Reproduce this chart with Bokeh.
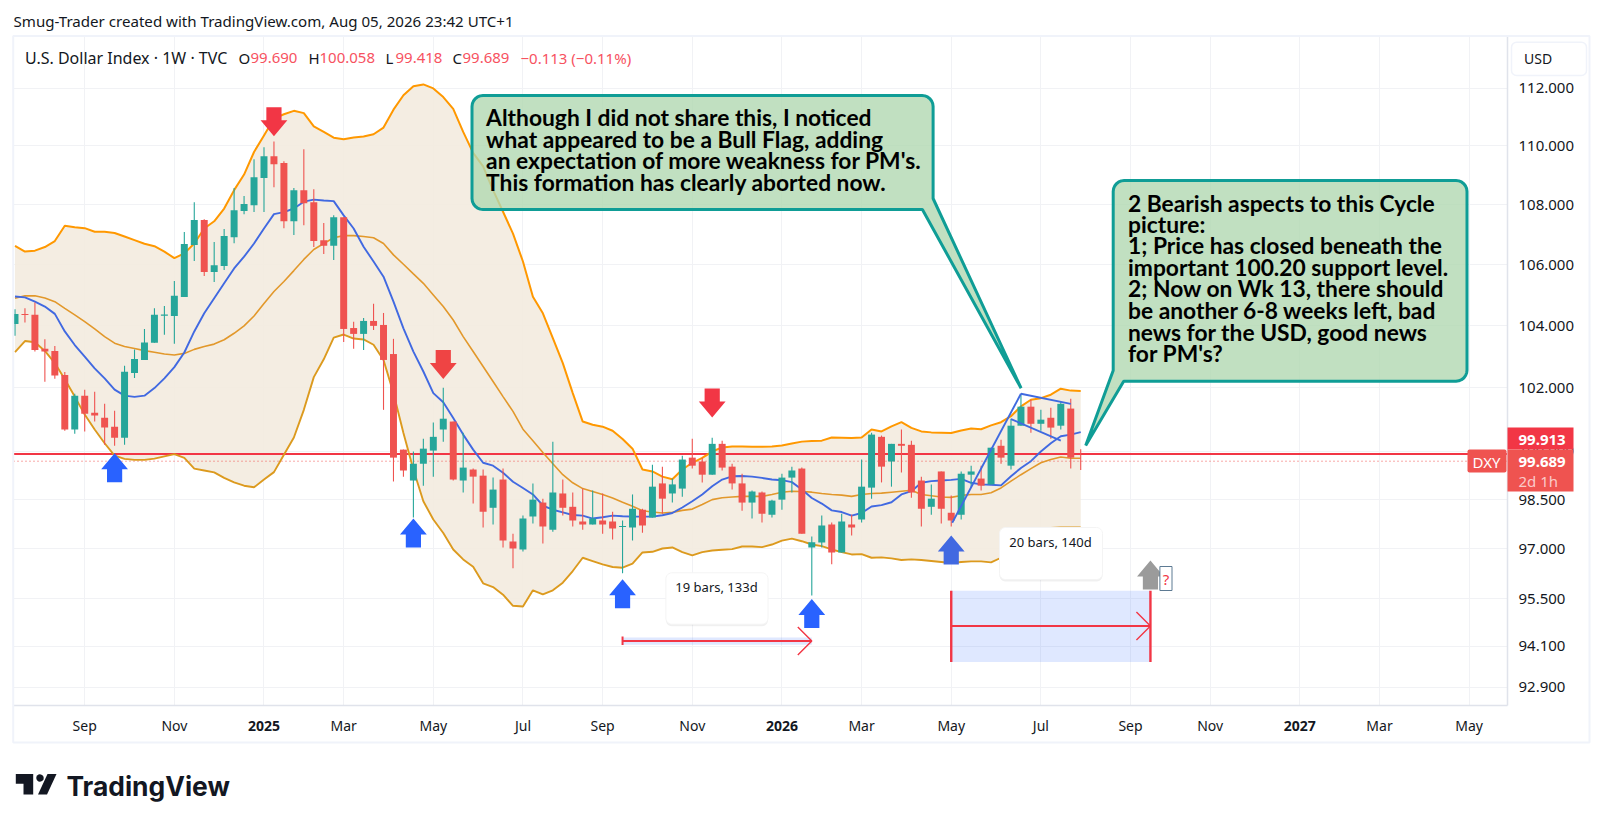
import math
import numpy as np
from bokeh.plotting import figure
from bokeh.embed import file_html
from bokeh.resources import INLINE
from bokeh.models import (Range1d, FixedTicker, PrintfTickFormatter, Label, BoxAnnotation,
                          PolyAnnotation, ColumnDataSource)

opens = [104.05,104.38,104.35,103.25,103.18,102.41,100.68,101.75,101.21,101.05,
 100.77,100.42,102.47,102.89,103.44,104.32,104.31,104.93,106.65,107.48,
 105.75,105.95,106.91,107.79,107.98,108.90,109.64,109.41,107.44,108.49,
 108.08,106.81,106.62,107.58,103.92,103.73,104.15,104.02,103.08,100.05,
 99.09,99.61,100.02,100.68,100.93,99.09,99.43,99.24,98.25,99.12,
 97.22,96.98,97.98,98.41,97.58,98.69,98.28,97.83,97.74,97.86,
 97.83,97.66,97.65,98.19,97.95,99.00,98.69,98.84,99.80,99.68,
 99.27,100.23,99.52,99.00,98.41,98.72,98.04,98.50,99.18,99.46,
 97.04,97.19,97.74,96.89,97.74,97.89,98.87,100.45,99.68,100.23,
 100.20,99.09,98.28,99.37,98.10,98.04,99.27,99.15,98.97,100.17,
 99.55,100.80,101.40,100.86,101.05,100.80,101.34,99.69]
closes = [104.38,104.34,103.21,103.16,102.39,100.68,101.75,101.18,101.12,100.74,
 100.42,102.51,102.92,103.45,104.35,104.36,104.97,106.68,107.48,105.75,
 105.98,106.95,107.81,108.02,108.93,109.64,109.37,107.44,108.49,108.05,
 106.78,106.62,107.58,103.89,103.73,104.15,103.99,102.89,99.80,99.40,
 99.61,100.08,100.45,101.02,99.12,99.49,99.21,98.13,98.81,97.25,
 97.01,97.92,98.50,97.68,98.72,98.25,97.86,97.74,97.92,97.74,
 97.62,97.69,98.22,97.71,98.90,98.53,98.97,99.74,99.55,99.27,
 100.23,99.49,99.00,98.41,98.75,98.07,98.47,99.18,99.40,97.46,
 97.20,97.71,96.89,97.83,97.65,98.90,100.52,99.52,100.23,100.17,
 98.72,98.22,98.53,98.22,97.86,99.30,99.37,98.93,100.11,99.80,
 100.80,101.40,100.86,100.99,100.74,101.49,99.80,99.689]
highs = [104.53,104.56,104.75,103.56,103.34,102.50,101.81,101.94,101.87,101.49,
 101.27,102.70,103.23,103.89,104.56,104.64,105.46,107.08,108.08,107.51,
 106.75,107.18,108.56,108.29,109.54,109.95,110.15,109.47,108.56,109.88,
 108.52,107.38,107.64,107.58,104.12,104.25,104.71,104.41,103.57,100.05,
 99.99,100.39,100.90,102.00,100.93,100.58,99.46,99.43,99.18,99.46,
 97.46,98.01,99.00,98.53,100.30,99.12,98.72,98.84,98.78,98.69,
 98.13,97.86,98.66,98.22,99.58,99.52,99.15,99.86,100.39,99.80,
 100.42,100.33,99.61,99.30,98.78,98.75,98.50,99.30,99.52,99.49,
 97.37,98.01,97.80,98.07,98.04,99.74,100.58,100.49,100.23,100.68,
 100.33,99.21,98.97,99.37,98.63,99.37,99.55,99.55,100.11,100.36,
 101.02,101.81,101.62,101.30,101.37,101.55,101.65,100.058]
lows = [103.67,104.10,103.16,102.19,102.29,100.64,100.55,100.62,100.93,100.20,
 100.17,100.20,102.31,102.89,103.44,103.70,103.41,104.93,106.12,105.62,
 105.42,105.82,106.71,107.68,107.75,107.75,108.59,107.21,106.98,107.31,
 106.58,106.35,106.15,103.47,103.25,103.21,103.86,101.30,99.06,99.21,
 97.95,98.93,99.21,100.30,99.09,98.72,98.38,97.65,97.74,97.04,
 96.41,96.92,97.77,97.16,97.52,98.01,97.68,97.58,97.74,97.46,
 97.28,96.26,97.25,97.49,97.95,98.07,98.41,98.59,99.46,99.03,
 99.27,99.40,98.81,98.16,97.92,97.80,97.95,98.19,98.72,97.46,
 95.60,97.04,96.53,96.89,97.40,97.80,98.53,99.03,98.90,99.34,
 98.56,97.68,98.04,97.77,97.68,97.89,98.87,98.78,98.97,99.61,
 99.43,100.80,100.58,100.64,100.39,100.68,99.46,99.418]
upper = [106.62,106.43,106.46,106.58,106.78,107.29,107.24,107.21,107.09,107.09,
 107.05,106.93,106.81,106.69,106.61,106.43,106.21,106.37,106.70,107.20,
 107.44,107.87,108.49,109.02,109.79,110.36,110.94,111.09,111.21,111.13,
 110.67,110.48,110.28,110.23,110.29,110.32,110.40,110.63,111.25,111.75,
 112.07,112.13,111.99,111.69,111.28,110.48,109.76,109.30,108.49,107.76,
 107.03,106.10,104.94,104.40,103.59,102.79,101.83,100.93,100.83,100.77,
 100.64,100.38,100.08,99.43,99.37,99.21,99.13,99.43,99.64,99.79,
 99.99,100.12,100.15,100.15,100.14,100.14,100.15,100.18,100.24,100.30,
 100.32,100.33,100.43,100.42,100.41,100.43,100.68,100.62,100.78,100.91,
 100.73,100.62,100.59,100.58,100.57,100.65,100.71,100.69,100.81,100.91,
 101.10,101.41,101.62,101.67,101.78,101.97,101.91,101.90]
basis = [104.89,104.97,104.97,104.90,104.78,104.56,104.35,104.13,103.89,103.64,
 103.43,103.32,103.26,103.19,103.14,103.08,103.05,103.10,103.23,103.32,
 103.40,103.54,103.75,103.99,104.31,104.72,105.11,105.44,105.80,106.17,
 106.50,106.70,106.89,106.96,106.96,106.93,106.89,106.70,106.32,106.01,
 105.69,105.38,105.00,104.62,104.18,103.64,103.16,102.68,102.20,101.72,
 101.25,100.69,100.33,99.96,99.61,99.27,99.02,98.84,98.75,98.66,
 98.55,98.42,98.30,98.16,98.12,98.09,98.11,98.17,98.21,98.35,
 98.50,98.56,98.58,98.60,98.60,98.60,98.66,98.73,98.76,98.75,
 98.73,98.69,98.66,98.64,98.60,98.66,98.69,98.70,98.73,98.76,
 98.79,98.66,98.62,98.58,98.57,98.63,98.66,98.66,98.71,98.86,
 99.07,99.27,99.46,99.64,99.74,99.82,99.78,99.78]
lower = [103.14,103.50,103.46,103.18,102.79,102.27,101.72,101.15,100.68,100.25,
 99.86,99.76,99.73,99.73,99.77,99.84,99.91,99.79,99.46,99.40,
 99.34,99.17,99.03,98.93,98.88,99.12,99.35,99.89,100.43,101.30,
 102.34,102.91,103.61,103.71,103.58,103.55,103.38,102.89,101.83,100.57,
 99.43,98.45,97.89,97.48,96.98,96.68,96.46,95.96,95.85,95.62,
 95.29,95.27,95.75,95.63,95.75,95.98,96.33,96.73,96.63,96.53,
 96.45,96.43,96.55,96.89,96.91,97.01,97.04,96.90,96.80,96.90,
 96.95,96.97,96.99,97.07,97.07,97.05,97.13,97.25,97.31,97.23,
 97.13,97.08,96.98,96.90,96.83,96.84,96.73,96.74,96.71,96.66,
 96.68,96.66,96.63,96.60,96.57,96.60,96.62,96.62,96.59,96.73,
 96.87,96.89,97.18,97.48,97.63,97.65,97.65,97.65]
fast_ma = [104.95,104.92,104.78,104.62,104.38,103.81,103.37,103.00,102.62,102.30,
 101.94,101.75,101.71,101.75,101.99,102.30,102.66,103.13,103.81,104.40,
 104.89,105.38,105.87,106.26,106.70,107.20,107.68,107.75,107.87,108.10,
 108.17,108.14,108.12,107.64,107.20,106.59,106.10,105.60,104.78,103.91,
 103.16,102.52,101.83,101.54,101.04,100.52,100.05,99.64,99.55,99.33,
 99.05,98.86,98.66,98.32,98.19,98.11,98.03,98.01,97.92,97.96,
 98.01,97.99,97.98,97.98,97.98,98.02,98.09,98.26,98.45,98.66,
 98.91,99.12,99.22,99.23,99.21,99.17,99.12,99.10,99.04,98.81,
 98.55,98.38,98.17,98.12,98.01,98.09,98.29,98.33,98.42,98.66,
 98.76,99.02,99.07,99.09,99.11,99.14,99.02,98.97,98.96,98.94,
 99.22,99.48,99.69,99.99,100.25,100.47,100.52,100.60]

month_ticks = [7,16,25,33,42,51,59,68,77,85,94,103,112,120,129,137,146]
month_labels = ["Sep","Nov","2025","Mar","May","Jul","Sep","Nov","2026","Mar","May","Jul","Sep","Nov","2027","Mar","May"]
price_ticks = [112,110,108,106,104,102,100,98.5,97,95.5,94.1,92.9]
last_close = 99.689
prev_line = 99.913

flag_pole_k, flag_pole_p = [94.1,101], [97.79,101.81]
flag_top_k, flag_top_p = [101,106], [101.81,101.49]
flag_low_k, flag_low_p = [100,105], [101.01,100.33]

arrow_k =   [26, 43, 70, 10, 40, 61, 80, 94, 114]
arrow_tip = [110.33,102.28,101.06,99.94,97.92,96.08,95.49,97.40,96.65]
arrow_dir = [-1,-1,-1,1,1,1,1,1,1]
arrow_col = ["#F23645","#ef4444","#F23645","#2962FF","#2962FF","#2962FF","#2962FF","#4169e1","#9b9b9b"]

callout1 = ["Although I did not share this, I noticed","what appeared to be a Bull Flag, adding",
            "an expectation of more weakness for PM's.","This formation has clearly aborted now."]
callout2 = ["2 Bearish aspects to this Cycle","picture:","1; Price has closed beneath the",
            "important 100.20 support level.","2; Now on Wk 13, there should",
            "be another 6-8 weeks left, bad","news for the USD, good news","for PM's?"]

# frame geometry on the page
FL, FR, FT, FB = 13.0, 1507.0, 36.0, 705.0
W, H = 1594, 816
x0, x1 = -0.15, 149.85
y0, y1 = 92.37, 113.82
ppw = (FR-FL)/(x1-x0)
ppl = (FB-FT)/math.log(y1/y0)
X = lambda rx: x0 + (rx-FL)/ppw
Y = lambda ry: y1*math.exp(-(ry-FT)/ppl)

FONT = "Noto Sans"
INK = "#131722"

p = figure(width=W, height=H, x_range=Range1d(x0,x1), y_range=Range1d(y0,y1), y_axis_type="log",
           y_axis_location="right", toolbar_location=None, output_backend="svg",
           min_border_left=int(FL), min_border_right=int(W-FR), min_border_top=int(FT),
           min_border_bottom=int(H-FB))
p.outline_line_color = None
p.background_fill_color = "white"

# a transparent sheet over the chart, for the texts and tags that lie outside the plot frame
sheet = figure(width=W, height=H, x_range=Range1d(0,W), y_range=Range1d(H,0), toolbar_location=None,
               output_backend="svg", x_axis_location=None, y_axis_location=None,
               min_border=0, min_border_left=0, min_border_right=0, min_border_top=0, min_border_bottom=0)
sheet.grid.visible = False
sheet.outline_line_color = None
sheet.background_fill_alpha = 0
sheet.border_fill_alpha = 0
sheet.styles = {"position":"absolute","left":"0px","top":"0px","pointer-events":"none"}

tick_y = FixedTicker(ticks=price_ticks, minor_ticks=[])
tick_x = FixedTicker(ticks=month_ticks, minor_ticks=[])
p.yaxis.ticker = tick_y
p.yaxis.formatter = PrintfTickFormatter(format="%.3f")
p.xaxis.ticker = tick_x
p.xaxis.major_label_overrides = {k:("" if l.isdigit() else l) for k,l in zip(month_ticks,month_labels)}
for ax in (p.xaxis[0], p.yaxis[0]):
    ax.axis_line_color = "#e0e3eb"
    ax.axis_line_width = 1.5
    ax.major_tick_line_color = None
    ax.minor_tick_line_color = None
    ax.major_label_text_font = FONT
    ax.major_label_text_color = INK
p.yaxis.major_label_text_font_size = "15px"
p.xaxis.major_label_text_font_size = "14px"
p.yaxis.major_label_standoff = 5
p.xaxis.major_label_standoff = 4
p.xgrid.ticker = tick_x
p.ygrid.ticker = tick_y
p.xgrid.grid_line_color = "#f1f2f5"
p.ygrid.grid_line_color = "#f1f2f5"

def lab(t, rx, ry, size, color=INK, align="left", style="normal", font=FONT, alpha=1.0, on=None):
    (on or p).add_layout(Label(x=rx, y=ry, x_units="canvas", y_units="canvas", text=t, text_font=font,
                       text_font_size=f"{size}px", text_color=color, text_align=align,
                       text_baseline="middle", text_font_style=style, text_alpha=alpha))

def box(l, t, r, b, fill=None, line=None, lw=1, rad=0, alpha=1.0, on=None):
    (on or p).add_layout(BoxAnnotation(left=l, right=r, top=t, bottom=b,
                               left_units="canvas", right_units="canvas", top_units="canvas", bottom_units="canvas",
                               fill_color=fill or "white", fill_alpha=alpha if fill else 0,
                               line_color=line, line_width=lw, line_alpha=1.0 if line else 0,
                               border_radius=rad))

box(12.7, 35.5, 1589, 742, line="#f0f3fa", lw=2, on=sheet)

ks = np.arange(len(closes))
p.varea(ks, lower, upper, fill_color="#f3ebdf", fill_alpha=0.9)
p.line([x0,x1],[prev_line,prev_line], line_color="#F23645", line_width=2.2)
p.line([x0,x1],[last_close,last_close], line_color="#ef5350", line_width=1, line_dash="1 3")
p.line(ks, upper, line_color="#FF9800", line_width=2)
p.line(ks, basis, line_color="#e2982b", line_width=1.6)
p.line(ks, lower, line_color="#dc9a1e", line_width=1.9)
p.line(ks, fast_ma, line_color="#4169e1", line_width=1.9)

cols = ["#26a69a" if c>=o else "#ef5350" for o,c in zip(opens,closes)]
src = ColumnDataSource(dict(k=ks, o=opens, c=closes, h=highs, l=lows, col=cols,
                            t=np.maximum(opens,closes), b=np.minimum(opens,closes)))
p.segment("k","l","k","h", source=src, line_color="col", line_width=1.1)
p.vbar("k", 0.7, "t", "b", source=src, fill_color="col", line_color=None)

# drawings
for xs,ys in ((flag_pole_k,flag_pole_p),(flag_top_k,flag_top_p),(flag_low_k,flag_low_p)):
    p.line(xs, ys, line_color="#3f6ae0", line_width=1.9)

def arrow(k, tip, d, col):
    pts = [(0,0),(-13.4,16),(-7.6,16),(-7.6,29),(7.6,29),(7.6,16),(13.4,16)]
    xs = [k+a/ppw for a,_ in pts]
    ys = [tip*math.exp(d*(-b)/ppl) for _,b in pts]
    p.patch(xs, ys, fill_color=col, line_color=None)
for k,t,d,c in zip(arrow_k,arrow_tip,arrow_dir,arrow_col):
    arrow(k,t,d,c)

# date ranges
RED = "#F23645"
r1_k = [61,80]; r2_k = [94,114]
p.quad(left=r1_k[0], right=r1_k[1], top=94.35, bottom=94.14, fill_color="#2962FF", fill_alpha=0.15, line_color=None)
p.quad(left=r2_k[0], right=r2_k[1], top=95.74, bottom=93.63, fill_color="#2962FF", fill_alpha=0.15, line_color=None)
p.line(r1_k,[94.25,94.25], line_color=RED, line_width=2)
p.line([61,61],[94.38,94.13], line_color=RED, line_width=2)
p.line(r2_k,[94.69,94.69], line_color=RED, line_width=2)
p.line([94,94],[95.74,93.63], line_color=RED, line_width=2.4)
p.line([114,114],[95.74,93.63], line_color=RED, line_width=2.4)
for k,pr in ((80,94.25),(114,94.69)):
    p.line([k-14/ppw,k,k-14/ppw],[pr*math.exp(14/ppl),pr,pr*math.exp(-14/ppl)], line_color=RED, line_width=1.4)

# rounded shapes in page pixels
def arc(cx,cy,r,a0,a1,n=7):
    return [(cx+r*math.cos(a),cy+r*math.sin(a)) for a in np.linspace(math.radians(a0),math.radians(a1),n)]
def shape(pts, **kw):
    p.patch([X(a) for a,_ in pts],[Y(b) for _,b in pts], **kw)

for (l,t,r_,b) in ((665.4,572.3,767.5,623.7),(999,527,1102,579)):
    R=6
    path = lambda o: arc(l+R,t+R+o,R,180,270)+arc(r_-R,t+R+o,R,270,360)+arc(r_-R,b-R+o,R,0,90)+arc(l+R,b-R+o,R,90,180)
    shape(path(2), fill_color="#000000", fill_alpha=0.06, line_color=None)
    shape(path(0), fill_color="white", line_color="#f4f4f4", line_width=1)

TEAL="#0f9d96"
R=11
c1 = arc(471.5+R,95+R,R,180,270)+arc(932.6-R,95+R,R,270,360)+[(932.6,198),(1020.6,387.7),(921.9,209)]+arc(471.5+R,209-R,R,90,180)
shape(c1, fill_color="#b2d8b2", fill_alpha=0.8, line_color=TEAL, line_width=3)
c2 = arc(1112.7+R,180+R,R,180,270)+arc(1466.5-R,180+R,R,270,360)+arc(1466.5-R,380.7-R,R,0,90)+[(1123.2,380.7),(1085.2,445),(1112.7,370)]
shape(c2, fill_color="#b2d8b2", fill_alpha=0.8, line_color=TEAL, line_width=3)

CF="Lato"; CS=22.8
for t,y in zip(callout1,(116.3,138.7,159.7,181.7)):
    lab(t,485.6,y,CS,"#000000",font=CF,style="bold")
for t,y in zip(callout2,(202,223.5,244.5,266.5,287.5,309,331.5,352)):
    lab(t,1127.5,y,CS,"#000000",font=CF,style="bold")

lab("19 bars, 133d",716,586.7,13,INK,"center")
lab("20 bars, 140d",1050,541.7,13,INK,"center")

# question mark box
box(1159.4,566,1171.5,590,fill="white",line="#5d7a93",lw=1)
lab("?",1165.5,578,15,RED,"center")

# years in bold
for k,l in zip(month_ticks,month_labels):
    if l.isdigit():
        lab(l, FL+(k-x0)*ppw, 725, 14, INK, "center", "bold", on=sheet)

# headers
lab("Smug-Trader created with TradingView.com, Aug 05, 2026 23:42 UTC+1",13,20.7,15.1,INK,on=sheet)
lab("U.S. Dollar Index · 1W · TVC",24.5,57,16,INK)
UP="#f7525f"
for t,x,c in (("O",238,INK),("99.690",250,UP),("H",308,INK),("100.058",319,UP),("L",385,INK),("99.418",395,UP),
              ("C",452,INK),("99.689",462,UP),("−0.113 (−0.11%)",520,UP)):
    lab(t,x,57,15,c)

# price tags
box(1507,427,1573,449,fill="#F23645",on=sheet)
box(1507,449,1573,491,fill="#ef5350",on=sheet)
box(1467,449,1506,472,fill="#ef5350",rad=2,on=sheet)
lab("99.913",1518,439.7,15,"white",style="bold",on=sheet)
lab("99.689",1518,461.7,15,"white",style="bold",on=sheet)
lab("2d 1h",1518,480,15,"white",alpha=0.7,on=sheet)
lab("DXY",1472,461.7,15,"white",on=sheet)

# USD button
box(1511,41.7,1586,75,fill="white",line="#f0f3fa",lw=1.5,rad=5,on=sheet)
lab("USD",1523.6,58,14,INK,on=sheet)

# logo
logo = [[(15.3,773.5),(32.7,773.5),(32.7,794),(23,794),(23,783.3),(15.3,783.3)],
        arc(39.5,777.5,3.7,0,360,20),
        [(47,773.5),(56,773.5),(46.5,794),(37.5,794)]]
for s in logo:
    sheet.add_layout(PolyAnnotation(xs=[a for a,_ in s], ys=[b for _,b in s], xs_units="canvas", ys_units="canvas",
                                fill_color="#131722", fill_alpha=1, line_color=None))
lab("TradingView",66,785,26.4,"#131722",style="bold",font="Inter",on=sheet)

open("out.html","w").write(file_html((p, sheet), INLINE))
